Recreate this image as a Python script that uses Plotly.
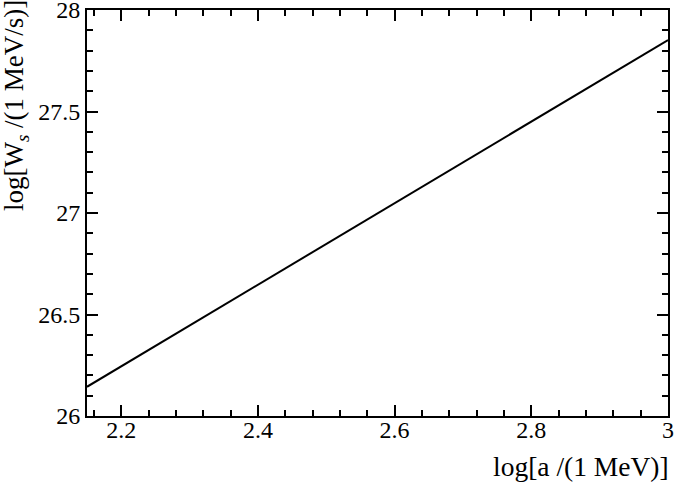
import plotly.graph_objects as go

# data
log_a = [2.15, 2.4, 2.6, 2.8, 3.0]
log_Ws = [26.144, 26.647, 27.05, 27.45, 27.852]

x_range = [2.15, 3.0]
y_range = [26.0, 28.0]
x_ticks = [2.2, 2.4, 2.6, 2.8, 3.0]
x_ticklabels = ["2.2", "2.4", "2.6", "2.8", "3"]
y_ticks = [26.0, 26.5, 27.0, 27.5, 28.0]
y_ticklabels = ["26", "26.5", "27", "27.5", "28"]

FONT = "Liberation Serif"

fig = go.Figure()
fig.add_trace(go.Scatter(x=log_a, y=log_Ws, mode="lines",
                         line=dict(color="black", width=2), showlegend=False,
                         hoverinfo="skip"))

axis_common = dict(
    showgrid=False, zeroline=False, showline=True, linecolor="black", linewidth=2,
    mirror="allticks", ticks="inside", ticklen=11, tickwidth=2, tickcolor="black",
    tickfont=dict(family=FONT, size=24, color="black"),
    ticklabeloverflow="allow", automargin=False,
)

fig.update_xaxes(range=x_range, tickvals=x_ticks, ticktext=x_ticklabels,
                 ticklabelstandoff=-9,
                 minor=dict(dtick=0.04, tick0=0, ticks="inside", ticklen=6,
                            tickwidth=2, tickcolor="black"),
                 **axis_common)
fig.update_yaxes(range=y_range, tickvals=y_ticks, ticktext=y_ticklabels,
                 minor=dict(dtick=0.1, tick0=0, ticks="inside", ticklen=6,
                            tickwidth=2, tickcolor="black"),
                 **axis_common)

fig.add_annotation(text="log[a /(1 MeV)]", xref="paper", yref="paper",
                   x=1.005, y=-0.1244, xanchor="right", yanchor="middle", showarrow=False,
                   font=dict(family=FONT, size=27.5, color="black"))
fig.add_annotation(text="log[W<sub><i>s</i></sub> /(1 MeV/s)]", xref="paper", yref="paper",
                   x=-0.1213, y=0.7648, xanchor="center", yanchor="middle", showarrow=False,
                   textangle=-90,
                   font=dict(family=FONT, size=27, color="black"))

fig.update_layout(width=675, height=483, margin=dict(l=87, r=7, t=10, b=67),
                  font=dict(family=FONT, size=24, color="black"),
                  plot_bgcolor="white", paper_bgcolor="white")

fig.write_html("out.html", config={"displayModeBar": False},
               post_script="document.body.style.margin='0';document.body.style.padding='0';document.body.style.overflow='hidden';")
